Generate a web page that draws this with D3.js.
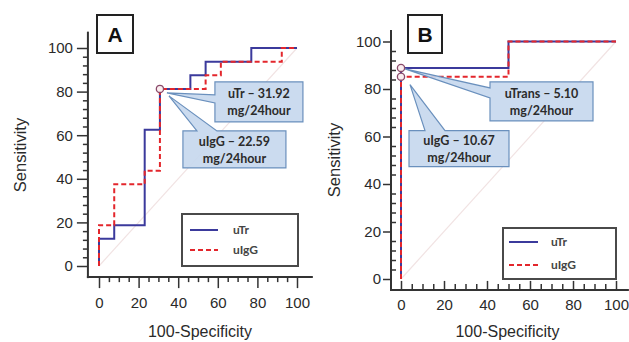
<!DOCTYPE html>
<html><head><meta charset="utf-8">
<script src="https://cdn.jsdelivr.net/npm/d3@7"></script>
<style>
html,body{margin:0;padding:0;background:#fff;}
svg{display:block;}
</style></head>
<body>
<svg id="chart" width="629" height="342"></svg>
<script>
// ---------- DATA ----------
const seriesNames = ["uTr", "uIgG"];
const xTicks = [0, 20, 40, 60, 80, 100];
const yTicks = [0, 20, 40, 60, 80, 100];

// Panel A ROC operating points (100-Specificity, Sensitivity)
const aUTrFpr  = [0, 0, 7.69, 23.08, 30.77, 46.15, 53.85, 76.92, 100];
const aUTrSens = [0, 12.5, 18.75, 62.5, 81.25, 87.5, 93.75, 100, 100];
const aUIgGFpr  = [0, 0, 7.69, 23.08, 30.77, 53.85, 61.54, 92.31, 100];
const aUIgGSens = [0, 18.75, 37.5, 43.75, 81.25, 87.5, 93.75, 100, 100];
const aCutFpr = [30.77];
const aCutSens = [81.25];
const aNotes = ["uTr – 31.92", "uIgG – 22.59"];

// Panel B
const bUTrFpr  = [0, 0, 50, 100];
const bUTrSens = [0, 88.89, 100, 100];
const bUIgGFpr  = [0, 0, 50, 100];
const bUIgGSens = [0, 85.19, 100, 100];
const bCutFpr = [0, 0];
const bCutSens = [88.89, 85.19];
const bNotes = ["uTrans – 5.10", "uIgG – 10.67"];
const unitText = "mg/24hour";

// ---------- STYLE ----------
const BLUE = "#3b3a9c", RED = "#e3262c";
const AX = "#333";
const CALL_FILL = "#c7d8ee", CALL_STROKE = "#6a90bd";

const svg = d3.select("#chart");

function zip(xs, ys){ return xs.map((x,i)=>[x, ys[i]]); }

function callout(g, tip, box, tail, lines){
  const {x,y,w,h} = box;
  let p = d3.path();
  p.moveTo(x, y);
  if (tail.side === "top"){
    p.lineTo(tail.a, y); p.lineTo(tip[0], tip[1]); p.lineTo(tail.b, y);
    p.lineTo(x+w, y); p.lineTo(x+w, y+h); p.lineTo(x, y+h); p.closePath();
  } else {
    p.lineTo(x+w, y); p.lineTo(x+w, y+h); p.lineTo(x, y+h);
    p.lineTo(x, tail.b); p.lineTo(tip[0], tip[1]); p.lineTo(x, tail.a); p.closePath();
  }
  g.append("path").attr("d", p.toString())
    .attr("fill", CALL_FILL).attr("fill-opacity", 0.92)
    .attr("stroke", CALL_STROKE).attr("stroke-width", 1.2);
  const t = g.append("text").attr("text-anchor","middle")
    .attr("font-family","Lato, 'Open Sans', sans-serif").attr("font-weight","bold")
    .attr("font-size", 12.5).attr("fill","#2b2b2b");
  t.append("tspan").attr("x", x+w/2).attr("y", y+h/2-8).attr("dy","0.35em").text(lines[0]);
  t.append("tspan").attr("x", x+w/2).attr("y", y+h/2+9).attr("dy","0.35em").text(lines[1]);
}

function panel(cfg){
  const g = svg.append("g");
  const x = d3.scaleLinear([0,100], cfg.xr);
  const y = d3.scaleLinear([0,100], cfg.yr);
  const axX = x(cfg.yAxisAt), axY = y(cfg.xAxisAt);

  // diagonal reference
  g.append("line").attr("x1", x(0)).attr("y1", y(0)).attr("x2", x(100)).attr("y2", y(100))
    .attr("stroke", "#f1e3e3").attr("stroke-width", 1.2);

  // axis lines
  g.append("line").attr("x1", axX).attr("x2", axX).attr("y1", y(cfg.yTop)).attr("y2", axY+1)
    .attr("stroke", AX).attr("stroke-width", 2);
  g.append("line").attr("x1", axX-1).attr("x2", x(cfg.xRight)).attr("y1", axY).attr("y2", axY)
    .attr("stroke", AX).attr("stroke-width", 2);

  // y axis
  const yMinor = d3.range(0, 101, 4).filter(v => v % 20 !== 0);
  const yMaj = d3.axisLeft(y).tickValues(yTicks).tickSize(cfg.yMajLen).tickPadding(cfg.yPad);
  const gy = g.append("g").attr("transform", `translate(${axX},0)`).call(yMaj);
  const yMin = (cfg.yMinorInside ? d3.axisRight(y) : d3.axisLeft(y)).tickValues(yMinor).tickSize(cfg.yMinLen).tickFormat("");
  const gy2 = g.append("g").attr("transform", `translate(${axX},0)`).call(yMin);

  // x axis
  const xMinor = d3.range(0, 101, 5).filter(v => v % 20 !== 0);
  const xMaj = d3.axisBottom(x).tickValues(xTicks).tickSize(cfg.xMajLen).tickPadding(cfg.xPad);
  const gx = g.append("g").attr("transform", `translate(0,${axY})`).call(xMaj);
  const xMin = d3.axisBottom(x).tickValues(xMinor).tickSize(cfg.xMinLen).tickFormat("");
  const gx2 = g.append("g").attr("transform", `translate(0,${axY})`).call(xMin);

  [gy, gy2, gx, gx2].forEach(a => {
    a.select(".domain").remove();
    a.selectAll(".tick line").attr("stroke", AX).attr("stroke-width", 1.5);
    a.selectAll("text").attr("font-family", "Arial, 'Liberation Sans', sans-serif")
      .attr("font-size", 15).attr("fill", "#2a2a2a");
  });

  // axis titles
  g.append("text").attr("x", (x(0)+x(100))/2 + cfg.xTitleDx).attr("y", cfg.xTitleY)
    .attr("text-anchor","middle").attr("dy","0.35em")
    .attr("font-family","Arial, 'Liberation Sans', sans-serif").attr("font-size",16).attr("fill","#2a2a2a")
    .text("100-Specificity");
  g.append("text").attr("transform", `translate(${cfg.yTitleX},${cfg.yTitleY}) rotate(-90)`)
    .attr("text-anchor","middle").attr("dy","0.35em")
    .attr("font-family","Arial, 'Liberation Sans', sans-serif").attr("font-size",16.5).attr("fill","#2a2a2a")
    .text("Sensitivity");

  // ROC lines
  const line = d3.line().x(d => x(d[0])).y(d => y(d[1])).curve(d3.curveStepAfter);
  g.append("path").datum(cfg.s1).attr("d", line).attr("fill","none")
    .attr("stroke", BLUE).attr("stroke-width", 2);
  g.append("path").datum(cfg.s2).attr("d", line).attr("fill","none")
    .attr("stroke", RED).attr("stroke-width", 2).attr("stroke-dasharray","5,3");

  // cut-off markers
  const cut = zip(cfg.cutX, cfg.cutY);
  g.selectAll("circle.cut").data(cut).join("circle").attr("class","cut")
    .attr("cx", d => x(d[0])).attr("cy", d => y(d[1])).attr("r", 3.6)
    .attr("fill", "#fbeef0").attr("stroke", "#8a4a6a").attr("stroke-width", 1.3);

  // callouts
  cfg.callouts.forEach(c => {
    const p = [x(c.at[0]), y(c.at[1])];
    const tip = [p[0]+c.tip[0], p[1]+c.tip[1]];
    const box = {x: p[0]+c.box[0], y: p[1]+c.box[1], w: c.box[2], h: c.box[3]};
    const tail = c.side === "top"
      ? {side:"top", a: p[0]+c.tail[0], b: p[0]+c.tail[1]}
      : {side:"left", a: p[1]+c.tail[0], b: p[1]+c.tail[1]};
    callout(g, tip, box, tail, c.lines);
  });

  // panel letter box
  g.append("rect").attr("x", cfg.letterBox[0]).attr("y", cfg.letterBox[1])
    .attr("width", cfg.letterBox[2]).attr("height", cfg.letterBox[3])
    .attr("fill","#fff").attr("stroke","#222").attr("stroke-width", 2);
  g.append("text").attr("x", cfg.letterBox[0]+cfg.letterBox[2]/2).attr("y", cfg.letterBox[1]+cfg.letterBox[3]/2)
    .attr("dy","0.36em").attr("text-anchor","middle")
    .attr("font-family","Arial, 'Liberation Sans', sans-serif").attr("font-weight","bold")
    .attr("font-size", 21).attr("fill","#111").text(cfg.letter);

  // legend
  const L = cfg.legend;
  g.append("rect").attr("x", L.x).attr("y", L.y).attr("width", L.w).attr("height", L.h)
    .attr("fill","#fff").attr("stroke","#4a4a4a").attr("stroke-width", 2);
  seriesNames.forEach((name, i) => {
    const ly = L.y + L.rows[i];
    g.append("line").attr("x1", L.x + L.s0).attr("x2", L.x + L.s1).attr("y1", ly).attr("y2", ly)
      .attr("stroke", i === 0 ? BLUE : RED).attr("stroke-width", 2)
      .attr("stroke-dasharray", i === 0 ? null : "5,3");
    g.append("text").attr("x", L.x + L.tx).attr("y", ly).attr("dy","0.35em")
      .attr("font-family","Lato, 'Open Sans', sans-serif").attr("font-weight","bold")
      .attr("font-size", 12).attr("fill","#444").text(name);
  });
}

panel({
  letter: "A",
  xr: [99, 297], yr: [266, 48],
  yAxisAt: -5.6, xAxisAt: -5.1, yTop: 107.5, xRight: 108,
  yMajLen: 11, yMinLen: 5, yMinorInside: false, yPad: 4,
  xMajLen: 11, xMinLen: 5, xPad: 9,
  xTitleDx: 2, xTitleY: 331, yTitleX: 20, yTitleY: 155,
  s1: zip(aUTrFpr, aUTrSens), s2: zip(aUIgGFpr, aUIgGSens),
  cutX: aCutFpr, cutY: aCutSens,
  callouts: [
    {at: [aCutFpr[0], aCutSens[0]], tip: [7, 4], box: [55, -7, 88, 40], side: "left", tail: [6, 14], lines: [aNotes[0], unitText]},
    {at: [aCutFpr[0], aCutSens[0]], tip: [9, 7], box: [23, 42, 103, 37], side: "top", tail: [37, 57], lines: [aNotes[1], unitText]}
  ],
  letterBox: [97, 15, 36, 38],
  legend: {x: 182, y: 214, w: 116, h: 52, rows: [16, 36], s0: 8, s1: 36, tx: 51}
});

panel({
  letter: "B",
  xr: [401, 616], yr: [279, 41.5],
  yAxisAt: -4.65, xAxisAt: -4.6, yTop: 104.8, xRight: 106,
  yMajLen: 8, yMinLen: 5, yMinorInside: true, yPad: 2,
  xMajLen: -9, xMinLen: -6, xPad: 9,
  xTitleDx: -1, xTitleY: 331, yTitleX: 334, yTitleY: 160,
  s1: zip(bUTrFpr, bUTrSens), s2: zip(bUIgGFpr, bUIgGSens),
  cutX: bCutFpr, cutY: bCutSens,
  callouts: [
    {at: [bCutFpr[0], bCutSens[0]], tip: [4, 1], box: [89, 14, 103, 39], side: "left", tail: [20, 30], lines: [bNotes[0], unitText]},
    {at: [bCutFpr[1], bCutSens[1]], tip: [9, 8], box: [8, 54, 100, 36], side: "top", tail: [24, 44], lines: [bNotes[1], unitText]}
  ],
  letterBox: [408, 15, 34, 38],
  legend: {x: 503, y: 228, w: 113, h: 51, rows: [14, 37], s0: 6, s1: 35, tx: 48}
});
</script>
</body></html>
